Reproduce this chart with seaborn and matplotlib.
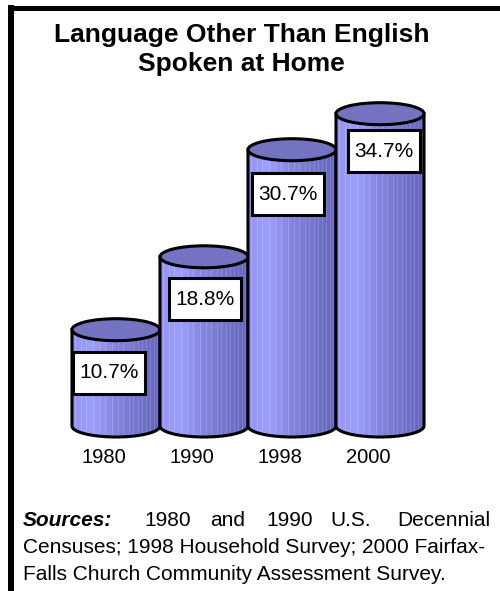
import numpy as np
import matplotlib
matplotlib.use("Agg")
from matplotlib import pyplot as plt
from matplotlib.patches import Ellipse, Rectangle, PathPatch
from matplotlib.path import Path
from matplotlib.lines import Line2D
import matplotlib.transforms as mtransforms
import pandas as pd
import seaborn as sns

# data
years = ["1980", "1990", "1998", "2000"]
values = [10.7, 18.8, 30.7, 34.7]
value_labels = ["10.7%", "18.8%", "30.7%", "34.7%"]

title_lines = ["Language Other Than English", "Spoken at Home"]
source_words = ["1980", "and", "1990", "U.S.", "Decennial"]
source_lines = ["Censuses; 1998 Household Survey; 2000 Fairfax-",
                "Falls Church Community Assessment Survey."]

W, H = 500, 591
PX_PER_UNIT = 9.0   # vertical scale, px per percent
RY = 11 / PX_PER_UNIT  # half height of the cylinder ellipses

# label boxes are not placed quite evenly in the original (px offsets)
box_dx = [-7, 1, -4.5, 4]
box_dy = [43, 42.5, 44.5, 37.5]

sns.set_style("white")
plt.rcParams["font.family"] = ["Liberation Sans", "DejaVu Sans"]
plt.rcParams["text.color"] = "black"

fig = plt.figure(figsize=(W / 100, H / 100), dpi=100)
ax = fig.add_axes([28 / W, (H - 444) / H, 440 / W, 42 * PX_PER_UNIT / H])

df = pd.DataFrame({"year": years, "pct": values})
sns.barplot(data=df, x="year", y="pct", width=1.0, color="#8080d8", ax=ax)

# horizontal shading of the cylinder body, with thin light stripes
ncol = 88
t = np.linspace(0, 1, ncol)
stops = [0.0, 0.22, 0.5, 1.0]
r = np.interp(t, stops, [0.58, 0.62, 0.52, 0.40])
g = np.interp(t, stops, [0.58, 0.62, 0.52, 0.40])
b = np.interp(t, stops, [0.94, 1.00, 0.86, 0.72])
shade = np.stack([r, g, b], axis=-1)
stripe_cols = [3, 9, 14, 21, 27, 33, 40, 46, 51, 57, 61, 66, 70, 74, 78, 82, 85]
for c in stripe_cols:
    shade[c] = np.minimum(shade[c] + 0.07, 1.0)
img = shade[np.newaxis, :, :]

theta = np.linspace(np.pi, 2 * np.pi, 80)

for i, p in enumerate(ax.patches):
    x0 = p.get_x()
    w = p.get_width()
    h = p.get_height()
    cx = x0 + w / 2
    p.set_visible(False)
    z = 2 + i

    arc = np.column_stack([cx + w / 2 * np.cos(theta), RY * np.sin(theta)])
    verts = np.vstack([[x0, h], arc, [x0 + w, h], [x0, h]])
    codes = [Path.MOVETO] + [Path.LINETO] * (len(verts) - 2) + [Path.CLOSEPOLY]
    body = PathPatch(Path(verts, codes), facecolor="none", edgecolor="black",
                     lw=2.2, zorder=z + 0.1)
    ax.add_patch(body)
    im = ax.imshow(img, extent=[x0, x0 + w, -RY, h], aspect="auto",
                   interpolation="nearest", zorder=z)
    im.set_clip_path(body)

    ax.add_patch(Ellipse((cx, h), w, 2 * RY, facecolor="#7373c2",
                         edgecolor="black", lw=2.2, zorder=z + 0.2))

    # white value box
    bw, bh = 72 / 88, 42 / PX_PER_UNIT
    xc = cx + box_dx[i] / 88
    yc = h - box_dy[i] / PX_PER_UNIT
    ax.add_patch(Rectangle((xc - bw / 2, yc - bh / 2), bw, bh, facecolor="white",
                           edgecolor="black", lw=2.2, zorder=20))
    ax.text(xc, yc, value_labels[i], ha="center", va="center", fontsize=15,
            color="black", zorder=21)

ax.set_xlim(-1, 4)
ax.set_ylim(-2, 40)
ax.set_yticks([])
ax.set_xlabel("")
ax.set_ylabel("")
sns.despine(ax=ax, left=True, bottom=True)
ax.tick_params(axis="x", length=0, labelsize=14.5, pad=3, colors="black")
shift = mtransforms.ScaledTranslation(-12 / 100, 0, fig.dpi_scale_trans)
for lab in ax.get_xticklabels():
    lab.set_transform(lab.get_transform() + shift)

# title
fig.text(241.5 / W, 1 - 42 / H, title_lines[0], ha="center", va="baseline",
         fontsize=19, weight="bold")
fig.text(241.5 / W, 1 - 71 / H, title_lines[1], ha="center", va="baseline",
         fontsize=19, weight="bold")

# sources note, first line spread out like justified text
fs = 15
fig.text(23 / W, 1 - 526 / H, "Sources:", ha="left", va="baseline", fontsize=fs,
         weight="bold", style="italic")
word_x = [144, 210, 266, 330]
for wx, word in zip(word_x, source_words[:-1]):
    fig.text(wx / W, 1 - 526 / H, word, ha="left", va="baseline", fontsize=fs)
fig.text(490 / W, 1 - 526 / H, source_words[-1], ha="right", va="baseline", fontsize=fs)
fig.text(23 / W, 1 - 553 / H, source_lines[0], ha="left", va="baseline", fontsize=fs)
fig.text(23 / W, 1 - 580 / H, source_lines[1], ha="left", va="baseline", fontsize=fs)

# frame: thick top and left rules
fig.add_artist(Line2D([8 / W, 1], [1 - 7.5 / H, 1 - 7.5 / H], transform=fig.transFigure,
                      color="black", lw=3.6, solid_capstyle="butt"))
fig.add_artist(Line2D([11 / W, 11 / W], [1 - 5 / H, 0], transform=fig.transFigure,
                      color="black", lw=4.3, solid_capstyle="butt"))

fig.savefig("out.png", dpi=100)
